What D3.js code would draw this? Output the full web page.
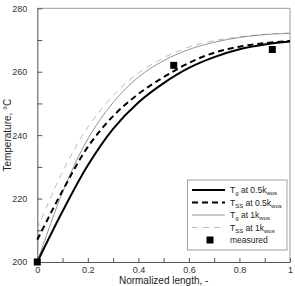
<!DOCTYPE html>
<html>
<head>
<meta charset="utf-8">
<script src="https://cdn.jsdelivr.net/npm/d3@7"></script>
<style>
  body { margin: 0; background: #fff; }
  svg { font-family: "Liberation Sans", Arial, sans-serif; }
</style>
</head>
<body>
<script>
'use strict';

// normalized length positions where the curves were read
const xPos = [0, 0.1, 0.2, 0.3, 0.4, 0.5, 0.6, 0.7, 0.8, 0.9, 1.0];

// temperatures, degC
const tgHalf  = [200, 216, 230.5, 242, 250.3, 256.4, 261.2, 264.6, 267.1, 268.6, 269.5];
const tssHalf = [207, 222.5, 236.3, 246, 253, 258.3, 262.8, 266, 267.9, 269, 269.7];
const tgOne   = [200, 222, 238.8, 250.3, 258.3, 263.5, 267, 269.3, 270.8, 271.7, 272.1];
const tssOne  = [210.5, 228.5, 242.5, 252.5, 259.6, 264.4, 267.8, 269.8, 271, 271.8, 272.2];

// measured points
const measX = [0, 0.54, 0.93];
const measT = [200, 262, 267];

const yTicks = [200, 210, 220, 230, 240, 250, 260, 270, 280];
const xTicks = [0, 0.1, 0.2, 0.3, 0.4, 0.5, 0.6, 0.7, 0.8, 0.9, 1];

const W = 295, H = 286;
const margin = {left: 37.3, right: 5, top: 8.3, bottom: 24};

const svg = d3.select('body').append('svg')
  .attr('width', W)
  .attr('height', H);

const x = d3.scaleLinear().domain([0, 1]).range([margin.left, W - margin.right]);
const y = d3.scaleLinear().domain([200, 280]).range([H - margin.bottom, margin.top]);

// frame (top and right)
svg.append('path')
  .attr('d', `M${x(0)},${y(280)}H${x(1)}V${y(200)}`)
  .attr('fill', 'none')
  .attr('stroke', '#999')
  .attr('stroke-width', 1);

// y axis, ticks point inward
const yAxis = d3.axisLeft(y)
  .tickValues(yTicks)
  .tickSizeInner(-5)
  .tickSizeOuter(0)
  .tickPadding(10)
  .tickFormat(d => d % 20 === 0 ? d : '');

const gy = svg.append('g')
  .attr('transform', `translate(${x(0)},0)`)
  .call(yAxis);
gy.selectAll('text').style('font-size', '9px').attr('fill', '#333');
gy.select('.domain').attr('stroke', '#555');
gy.selectAll('.tick line').attr('stroke', '#555');

// x axis
const xAxis = d3.axisBottom(x)
  .tickValues(xTicks)
  .tickSizeInner(-4)
  .tickSizeOuter(0)
  .tickPadding(5)
  .tickFormat(d => (Math.round(d * 10) % 2 === 0) ? d3.format('~g')(d) : '');

const gx = svg.append('g')
  .attr('transform', `translate(0,${y(200)})`)
  .call(xAxis);
gx.selectAll('text').style('font-size', '9px').attr('fill', '#333');
gx.select('.domain').attr('stroke', '#555');
gx.selectAll('.tick line').attr('stroke', '#555');

// axis titles
svg.append('text')
  .attr('transform', `translate(11,${(y(200) + y(280)) / 2}) rotate(-90)`)
  .attr('text-anchor', 'middle')
  .style('font-size', '10px')
  .attr('fill', '#222')
  .text('Temperature, °C');

svg.append('text')
  .attr('x', (x(0) + x(1)) / 2)
  .attr('y', 283.5)
  .attr('text-anchor', 'middle')
  .style('font-size', '10px')
  .attr('fill', '#222')
  .text('Normalized length, -');

// curves
const series = [
  {vals: tgHalf,  color: '#000', width: 2,   dash: null,  sub: 'g',  k: '0.5'},
  {vals: tssHalf, color: '#000', width: 2,   dash: '6,4', sub: 'SS', k: '0.5'},
  {vals: tgOne,   color: '#777', width: 0.8, dash: null,  sub: 'g',  k: '1'},
  {vals: tssOne,  color: '#aaa', width: 0.8, dash: '6,5', sub: 'SS', k: '1'}
];

const line = d3.line()
  .x(d => x(d[0]))
  .y(d => y(d[1]))
  .curve(d3.curveCatmullRom);

// draw thin ones first so the thick lines sit on top
series.slice().reverse().forEach(s => {
  svg.append('path')
    .datum(xPos.map((v, i) => [v, s.vals[i]]))
    .attr('d', line)
    .attr('fill', 'none')
    .attr('stroke', s.color)
    .attr('stroke-width', s.width)
    .attr('stroke-dasharray', s.dash);
});

// measured squares
svg.selectAll('.meas')
  .data(measX.map((v, i) => [v, measT[i]]))
  .enter()
  .append('rect')
  .attr('x', d => x(d[0]) - 3.5)
  .attr('y', d => y(d[1]) - 3.5)
  .attr('width', 7)
  .attr('height', 7)
  .attr('fill', '#000');

// legend
const lg = svg.append('g');
lg.append('rect')
  .attr('x', 187.5)
  .attr('y', 180)
  .attr('width', 99.5)
  .attr('height', 70)
  .attr('fill', '#fff')
  .attr('stroke', '#888')
  .attr('stroke-width', 0.8);

series.forEach((s, i) => {
  let ly = 190 + i * 12.5;
  lg.append('line')
    .attr('x1', 192).attr('x2', 225)
    .attr('y1', ly).attr('y2', ly)
    .attr('stroke', s.color)
    .attr('stroke-width', s.width)
    .attr('stroke-dasharray', s.dash);
  let t = lg.append('text')
    .attr('x', 230)
    .attr('y', ly + 3)
    .style('font-size', '8.5px')
    .attr('fill', '#222');
  t.append('tspan').text('T');
  t.append('tspan').attr('dy', 2).style('font-size', '6px').text(s.sub);
  t.append('tspan').attr('dy', -2).text(' at ' + s.k + 'k');
  t.append('tspan').attr('dy', 2).style('font-size', '6px').text('wos');
});

let my = 190 + 4 * 12.5;
lg.append('rect')
  .attr('x', 206.5).attr('y', my - 3.5)
  .attr('width', 7).attr('height', 7)
  .attr('fill', '#000');
lg.append('text')
  .attr('x', 230)
  .attr('y', my + 3)
  .style('font-size', '8.5px')
  .attr('fill', '#222')
  .text('measured');
</script>
</body>
</html>
